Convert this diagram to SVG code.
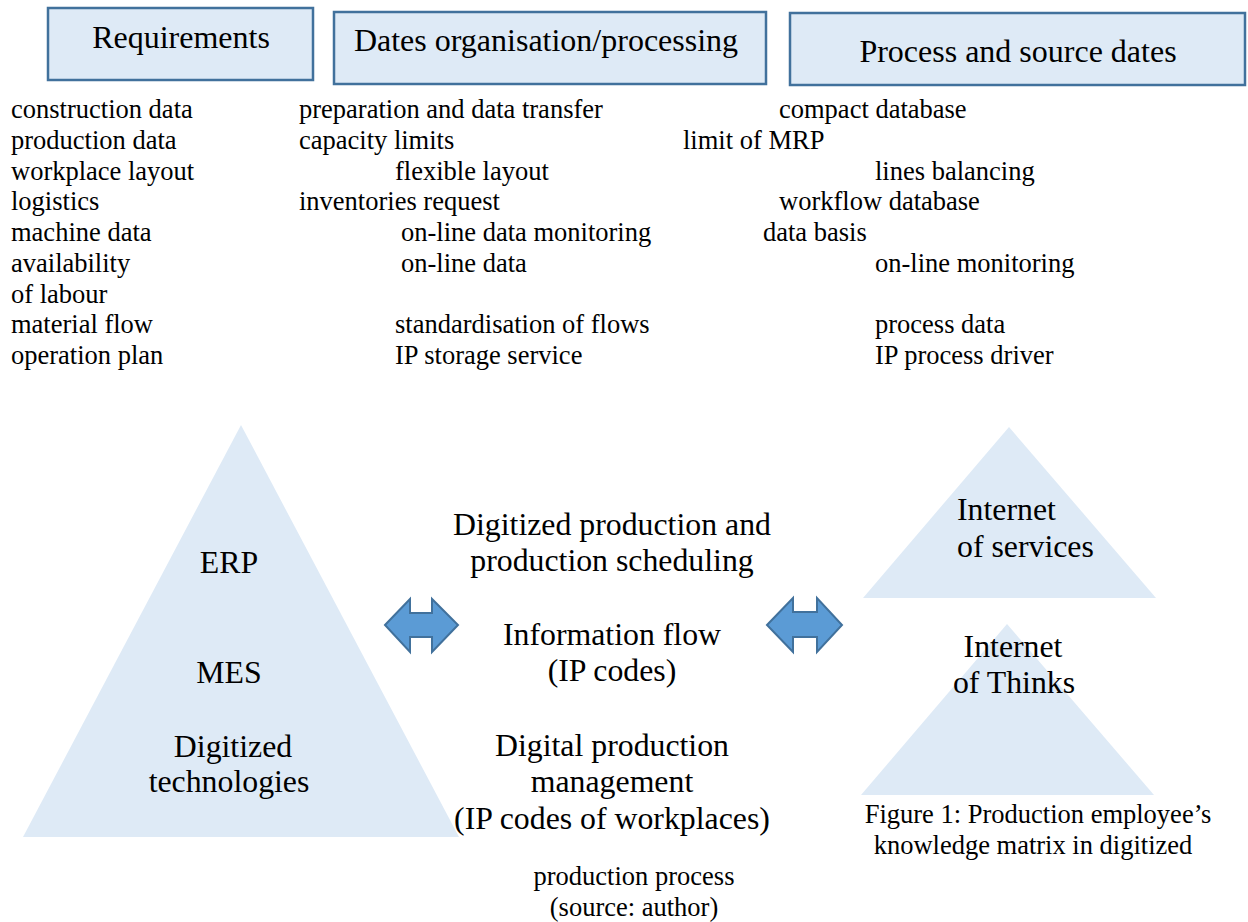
<svg xmlns="http://www.w3.org/2000/svg" width="1248" height="922" viewBox="0 0 1248 922" font-family="'Liberation Serif', 'Times New Roman', serif">
  <style>
    text { font-family: "Liberation Serif", "Times New Roman", serif; fill: #000; }
    .hdr { font-size: 32px; text-anchor: middle; }
    .body { font-size: 26.5px; }
    .big { font-size: 31.8px; text-anchor: middle; }
    .cap { font-size: 26.5px; text-anchor: middle; }
    .box { fill: #DEEAF6; stroke: #41719C; stroke-width: 2.5; }
    .tri { fill: #DEEAF6; }
    .arrow { fill: #5B9BD5; stroke: #41719C; stroke-width: 2; }
  </style>

  <!-- header boxes -->
  <g id="requirements">
    <rect class="box" x="48" y="8" width="265" height="72"/>
    <text class="hdr" x="181" y="48">Requirements</text>
  </g>
  <g id="dates-organisation">
    <rect class="box" x="334" y="12" width="432" height="72"/>
    <text class="hdr" x="546" y="51">Dates organisation/processing</text>
  </g>
  <g id="process-source">
    <rect class="box" x="790" y="13" width="455" height="72"/>
    <text class="hdr" x="1018" y="62">Process and source dates</text>
  </g>

  <!-- requirement items -->
  <g id="requirement-items" class="body">
    <text x="11" y="118">construction data</text>
    <text x="11" y="149">production data</text>
    <text x="11" y="180">workplace layout</text>
    <text x="11" y="210">logistics</text>
    <text x="11" y="241">machine data</text>
    <text x="11" y="272">availability</text>
    <text x="11" y="303">of labour</text>
    <text x="11" y="333">material flow</text>
    <text x="11" y="364">operation plan</text>
  </g>

  <!-- data organisation items -->
  <g id="organisation-items" class="body">
    <text x="299" y="118">preparation and data transfer</text>
    <text x="299" y="149">capacity limits</text>
    <text x="395" y="180">flexible layout</text>
    <text x="299" y="210">inventories request</text>
    <text x="401" y="241">on-line data monitoring</text>
    <text x="401" y="272">on-line data</text>
    <text x="395" y="333">standardisation of flows</text>
    <text x="395" y="364">IP storage service</text>
  </g>

  <!-- process and source items -->
  <g id="source-items" class="body">
    <text x="779" y="118">compact database</text>
    <text x="683" y="149">limit of MRP</text>
    <text x="875" y="180">lines balancing</text>
    <text x="779" y="210">workflow database</text>
    <text x="763" y="241">data basis</text>
    <text x="875" y="272">on-line monitoring</text>
    <text x="875" y="333">process data</text>
    <text x="875" y="364">IP process driver</text>
  </g>

  <!-- system pyramid -->
  <g id="pyramid-systems">
    <polygon class="tri" points="241,425 459,837 23,837"/>
    <text class="big" x="229" y="573">ERP</text>
    <text class="big" x="229" y="683">MES</text>
    <text class="big" x="233" y="757">Digitized</text>
    <text class="big" x="229" y="792">technologies</text>
  </g>

  <!-- internet of services -->
  <g id="pyramid-services">
    <polygon class="tri" points="1009,427 1156,598 863,598"/>
    <text class="big" x="957" y="520" style="text-anchor:start">Internet</text>
    <text class="big" x="957" y="557" style="text-anchor:start">of services</text>
  </g>

  <!-- internet of things -->
  <g id="pyramid-things">
    <polygon class="tri" points="1007,624 1154,795 861,795"/>
    <text class="big" x="1013" y="657">Internet</text>
    <text class="big" x="1014" y="693">of Thinks</text>
  </g>

  <!-- centre labels -->
  <g id="centre-labels">
    <text class="big" x="612" y="535">Digitized production and</text>
    <text class="big" x="612" y="571">production scheduling</text>
    <text class="big" x="612" y="645">Information flow</text>
    <text class="big" x="612" y="681">(IP codes)</text>
    <text class="big" x="612" y="756">Digital production</text>
    <text class="big" x="612" y="792">management</text>
    <text class="big" x="612" y="829">(IP codes of workplaces)</text>
  </g>

  <!-- caption -->
  <g id="caption">
    <text class="cap" x="1038" y="823">Figure 1: Production employee’s</text>
    <text class="cap" x="1033" y="854">knowledge matrix in digitized</text>
    <text class="cap" x="634" y="885">production process</text>
    <text class="cap" x="634" y="916">(source: author)</text>
  </g>

  <!-- double-headed connectors -->
  <g id="connectors">
    <polygon class="arrow" points="385,625 410,599 410,613 432,613 432,599 458,625 432,652 432,637 410,637 410,652"/>
    <polygon class="arrow" points="767,625 793,598 793,612 817,612 817,598 842,625 817,652 817,637 793,637 793,652"/>
  </g>
</svg>
